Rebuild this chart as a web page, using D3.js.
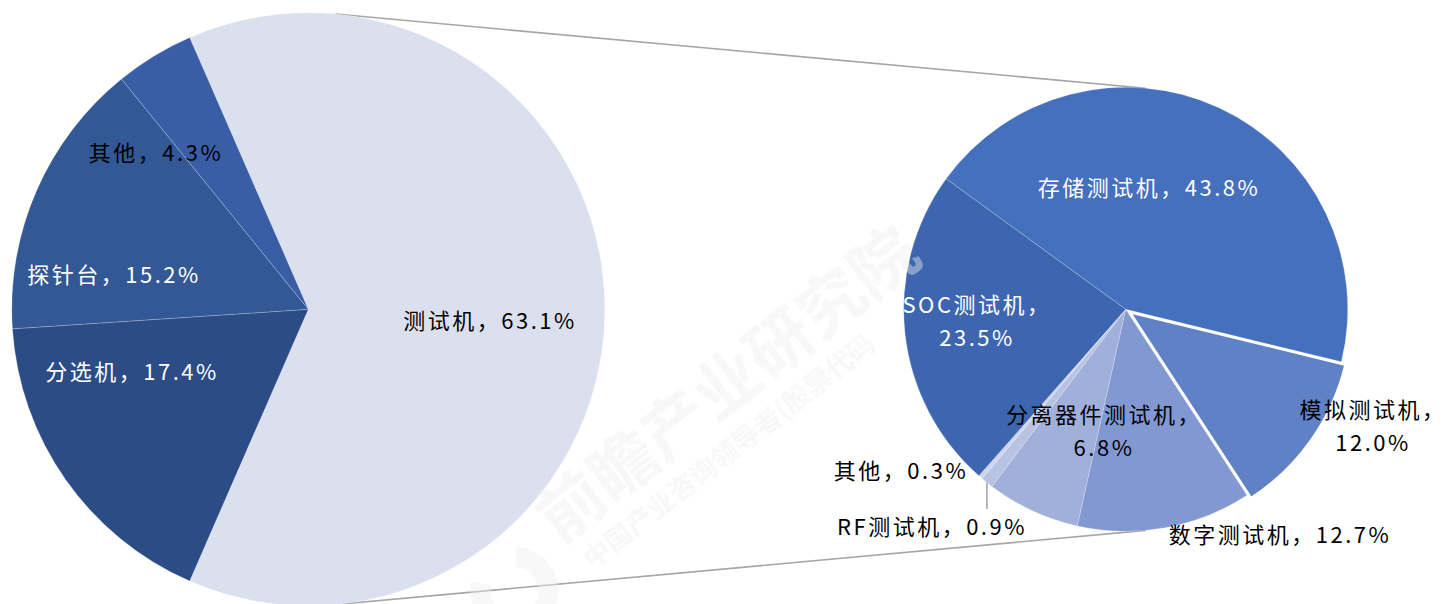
<!DOCTYPE html>
<html>
<head>
<meta charset="utf-8">
<script src="https://cdn.jsdelivr.net/npm/d3@7"></script>
<style>
  html, body { margin: 0; padding: 0; background: #ffffff; }
  svg { display: block; }
  text { font-family: "Noto Sans CJK SC", "Noto Sans", sans-serif; }
</style>
</head>
<body>
<svg id="chart" width="1447" height="604"></svg>
<script>
// Main pie: test equipment market split
const mainNames  = ["测试机", "分选机", "探针台", "其他"];
const mainValues = [63.1, 17.4, 15.2, 4.3];
const mainColors = ["#dbe0ef", "#2c4c86", "#335896", "#395ea6"];

// Secondary pie: breakdown of 测试机
const subNames  = ["存储测试机", "模拟测试机", "数字测试机", "分离器件测试机", "RF测试机", "其他", "SOC测试机"];
const subValues = [43.8, 12.0, 12.7, 6.8, 0.9, 0.3, 23.5];
const subColors = ["#4470be", "#6081c6", "#8298d1", "#a1b0db", "#b8c3e4", "#cdd4ec", "#3e66b0"];

const svg = d3.select("#chart");
const deg = Math.PI / 180;

// geometry
const c1 = { x: 308.3, y: 309.3, r: 296.5 };
const c2 = { x: 1125.7, y: 309.3, r: 222 };

// faint brand watermark
function watermark(g, x, y) {
  const w = g.append("g")
    .attr("transform", `translate(${x},${y}) rotate(-38)`)
    .attr("fill", "#f0f0f0").attr("opacity", 0.42);
  w.append("text").attr("x", 0).attr("y", 0)
    .attr("font-size", 66).attr("font-weight", 700)
    .text("前瞻产业研究院");
  w.append("text").attr("x", 10).attr("y", 40)
    .attr("font-size", 27).attr("font-weight", 700)
    .text("中国产业咨询领导者(股票代码");
  w.append("path")
    .attr("d", d3.arc()({ innerRadius: 24, outerRadius: 44, startAngle: 40 * deg, endAngle: 320 * deg }))
    .attr("transform", "translate(-64,8)");
}

// connector lines: outer common tangents of the two circles
const d = c2.x - c1.x;
const sinA = (c1.r - c2.r) / d, cosA = Math.sqrt(1 - sinA * sinA);
const tangents = [-1, 1].map(sgn => [
  [c1.x + c1.r * sinA, c1.y + sgn * c1.r * cosA],
  [c2.x + c2.r * sinA, c2.y + sgn * c2.r * cosA]
]);
svg.append("g").selectAll("line").data(tangents).join("line")
  .attr("x1", t => t[0][0]).attr("y1", t => t[0][1])
  .attr("x2", t => t[1][0]).attr("y2", t => t[1][1])
  .attr("stroke", "#a6a6a6").attr("stroke-width", 1.6);

// main pie: combined slice centred on the right-hand side
const mainShare = mainValues[0] / d3.sum(mainValues);
const mainStart = (Math.PI / 2) - mainShare * Math.PI;
const pieMain = d3.pie().sort(null).value(v => v)
  .startAngle(mainStart).endAngle(mainStart + 2 * Math.PI);
const arcMain = d3.arc().innerRadius(0).outerRadius(c1.r);

const gMain = svg.append("g").attr("transform", `translate(${c1.x},${c1.y})`);
gMain.selectAll("path").data(pieMain(mainValues)).join("path")
  .attr("d", arcMain)
  .attr("fill", (p, i) => mainColors[i])
  .attr("stroke", "rgba(255,255,255,0.3)")
  .attr("stroke-width", 0.7);

// secondary pie
const subStart = -54 * deg;
const pieSub = d3.pie().sort(null).value(v => v)
  .startAngle(subStart).endAngle(subStart + 2 * Math.PI);
const arcSub = d3.arc().innerRadius(0).outerRadius(c2.r);
const explode = { 1: 5 };

const gSub = svg.append("g").attr("transform", `translate(${c2.x},${c2.y})`);
gSub.selectAll("path").data(pieSub(subValues)).join("path")
  .attr("d", arcSub)
  .attr("transform", (p, i) => {
    const off = explode[i] || 0;
    const a = (p.startAngle + p.endAngle) / 2;
    return `translate(${off * Math.sin(a)},${-off * Math.cos(a)})`;
  })
  .attr("fill", (p, i) => subColors[i])
  .attr("stroke", (p, i) => explode[i] ? "#ffffff" : "rgba(255,255,255,0.3)")
  .attr("stroke-width", (p, i) => explode[i] ? 2.5 : 0.7);

// leader line for the thin RF slice
const rfArc = pieSub(subValues)[4];
const rfMid = (rfArc.startAngle + rfArc.endAngle) / 2;
const rfX = c2.x + c2.r * Math.sin(rfMid), rfY = c2.y - c2.r * Math.cos(rfMid);
svg.append("line")
  .attr("x1", rfX).attr("y1", rfY).attr("x2", rfX).attr("y2", 509)
  .attr("stroke", "#a6a6a6").attr("stroke-width", 1.6);

// data labels
const fmt = v => v.toFixed(1) + "%";
const labelSpecs = [
  // [text lines, x, y, colour]
  [[mainNames[0] + "，" + fmt(mainValues[0])], 490, 321, "#000"],
  [[mainNames[1] + "，" + fmt(mainValues[1])], 132, 372, "#fff"],
  [[mainNames[2] + "，" + fmt(mainValues[2])], 114, 275, "#fff"],
  [[mainNames[3] + "，" + fmt(mainValues[3])], 156, 153, "#000"],
  [[subNames[0] + "，" + fmt(subValues[0])], 1149, 188, "#fff"],
  [[subNames[1] + "，", fmt(subValues[1])], 1373, 427, "#000"],
  [[subNames[2] + "，" + fmt(subValues[2])], 1280, 535, "#000"],
  [[subNames[3] + "，", fmt(subValues[3])], 1104, 432, "#000"],
  [[subNames[4] + "，" + fmt(subValues[4])], 932, 527, "#000"],
  [[subNames[5] + "，" + fmt(subValues[5])], 901, 471, "#000"],
  [[subNames[6] + "，", fmt(subValues[6])], 977, 322, "#fff"]
];
const gLab = svg.append("g");
labelSpecs.forEach(([lines, x, y, col]) => {
  const t = gLab.append("text")
    .attr("text-anchor", "middle")
    .attr("font-size", 22)
    .attr("letter-spacing", 2.5)
    .attr("fill", col);
  const y0 = y - (lines.length - 1) * 33 / 2;
  lines.forEach((ln, k) => {
    t.append("tspan").attr("x", x).attr("y", y0 + k * 33)
      .attr("dy", "0.35em").text(ln);
  });
});

// watermark on top of everything, very faint
watermark(svg.append("g"), 560, 545);
</script>
</body>
</html>
